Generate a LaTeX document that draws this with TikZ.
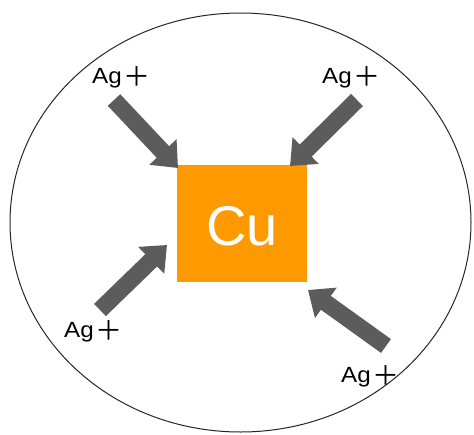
\documentclass[tikz,border=0pt]{standalone}
\usepackage{fontspec}
\setmainfont{Liberation Sans}
\newfontfamily\agfont[FakeStretch=1.1]{Liberation Sans}
\newfontfamily\cjk{Noto Sans CJK SC}
\usetikzlibrary{arrows.meta}
\definecolor{cuorange}{RGB}{255,153,0}
\definecolor{arrowgray}{RGB}{92,92,92}
\newcommand{\agion}{{\agfont Ag}\kern1.5pt{\cjk\fontsize{27}{27}\selectfont\raisebox{-3.5pt}{＋}}}
\tikzset{
  ion/.style={font=\fontsize{22}{24}\selectfont, anchor=base west, inner sep=0pt},
  attack/.style={draw=arrowgray, line width=17pt, -{Triangle[width=36pt,length=22pt]}},
  metal/.style={fill=cuorange, draw=none, minimum width=130pt, minimum height=117pt, inner sep=0pt}
}
\begin{document}
\begin{tikzpicture}[x=1pt,y=-1pt]
\useasboundingbox (0,0) rectangle (474,434);
\draw[line width=1pt, black!85] (240.5,222.5) ellipse [x radius=230.5, y radius=209.5];
\node[metal] (cu) at (242,223.5) {};
\node[font=\fontsize{56}{60}\selectfont, text=white, anchor=base, inner sep=0pt] (cutext) at (242,245) {Cu};
\node[ion] (ag1) at (92,83) {\agion};
\node[ion] (ag2) at (322,83) {\agion};
\node[ion] (ag3) at (64,337) {\agion};
\node[ion] (ag4) at (341,382) {\agion};
\coordinate (t1) at (114,100);
\coordinate (h1) at (178,168);
\coordinate (t2) at (357,100);
\coordinate (h2) at (290,166);
\coordinate (t3) at (100,310);
\coordinate (h3) at (167,245);
\coordinate (t4) at (386,346);
\coordinate (h4) at (308,290);
\draw[attack] (t1) -- (h1);
\draw[attack] (t2) -- (h2);
\draw[attack] (t3) -- (h3);
\draw[attack] (t4) -- (h4);
\end{tikzpicture}
\end{document}
